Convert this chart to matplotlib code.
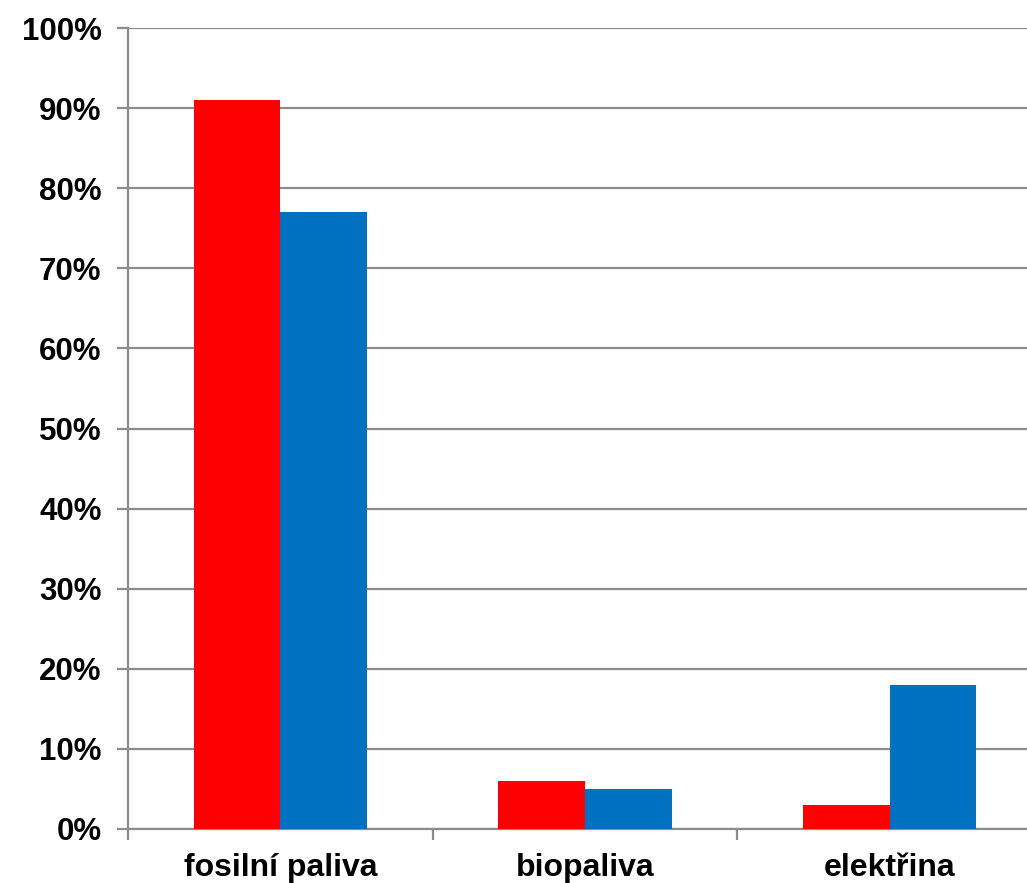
import numpy as np
import matplotlib.pyplot as plt
from matplotlib.ticker import FixedLocator, PercentFormatter

categories = ["fosilní paliva", "biopaliva", "elektřina"]
series_red = [91, 6, 3]
series_blue = [77, 5, 18]
y_ticks = list(range(0, 101, 10))

plt.rcParams['font.family'] = ['Liberation Sans', 'DejaVu Sans']
plt.rcParams['font.weight'] = 'bold'

fig = plt.figure(figsize=(10.27, 8.83), dpi=100)
# axes runs a bit past the right edge, like the cropped original
ax = fig.add_axes([128/1027, 54/883, 914/1027, 801/883])

x = np.arange(len(categories)) + 0.5
w = 0.285
ax.bar(x - w/2, series_red, w, color="#FF0000", zorder=3)
ax.bar(x + w/2, series_blue, w, color="#0070C0", zorder=3)

ax.set_xlim(0, 3)
ax.set_ylim(0, 100)
ax.set_yticks(y_ticks)
ax.yaxis.set_major_formatter(PercentFormatter(decimals=0))
ax.xaxis.set_major_locator(FixedLocator([0, 1, 2, 3]))
ax.xaxis.set_minor_locator(FixedLocator(x))
ax.set_xticklabels([])
ax.set_xticklabels(categories, minor=True)

ax.grid(axis="y", color="#8c8c8c", linewidth=1.6, zorder=0)
for s in ["top", "right"]:
    ax.spines[s].set_visible(False)
for s in ["left", "bottom"]:
    ax.spines[s].set_color("#8c8c8c")
    ax.spines[s].set_linewidth(1.6)

ax.tick_params(axis="y", which="major", length=8, width=1.6, color="#8c8c8c",
               labelsize=22.5, pad=11)
ax.tick_params(axis="x", which="major", length=8, width=1.6, color="#8c8c8c")
ax.tick_params(axis="x", which="minor", length=0, labelsize=23, pad=17)
for lbl in ax.get_yticklabels() + ax.get_xticklabels(minor=True):
    lbl.set_fontweight("bold")

fig.savefig("out.png", dpi=100)
